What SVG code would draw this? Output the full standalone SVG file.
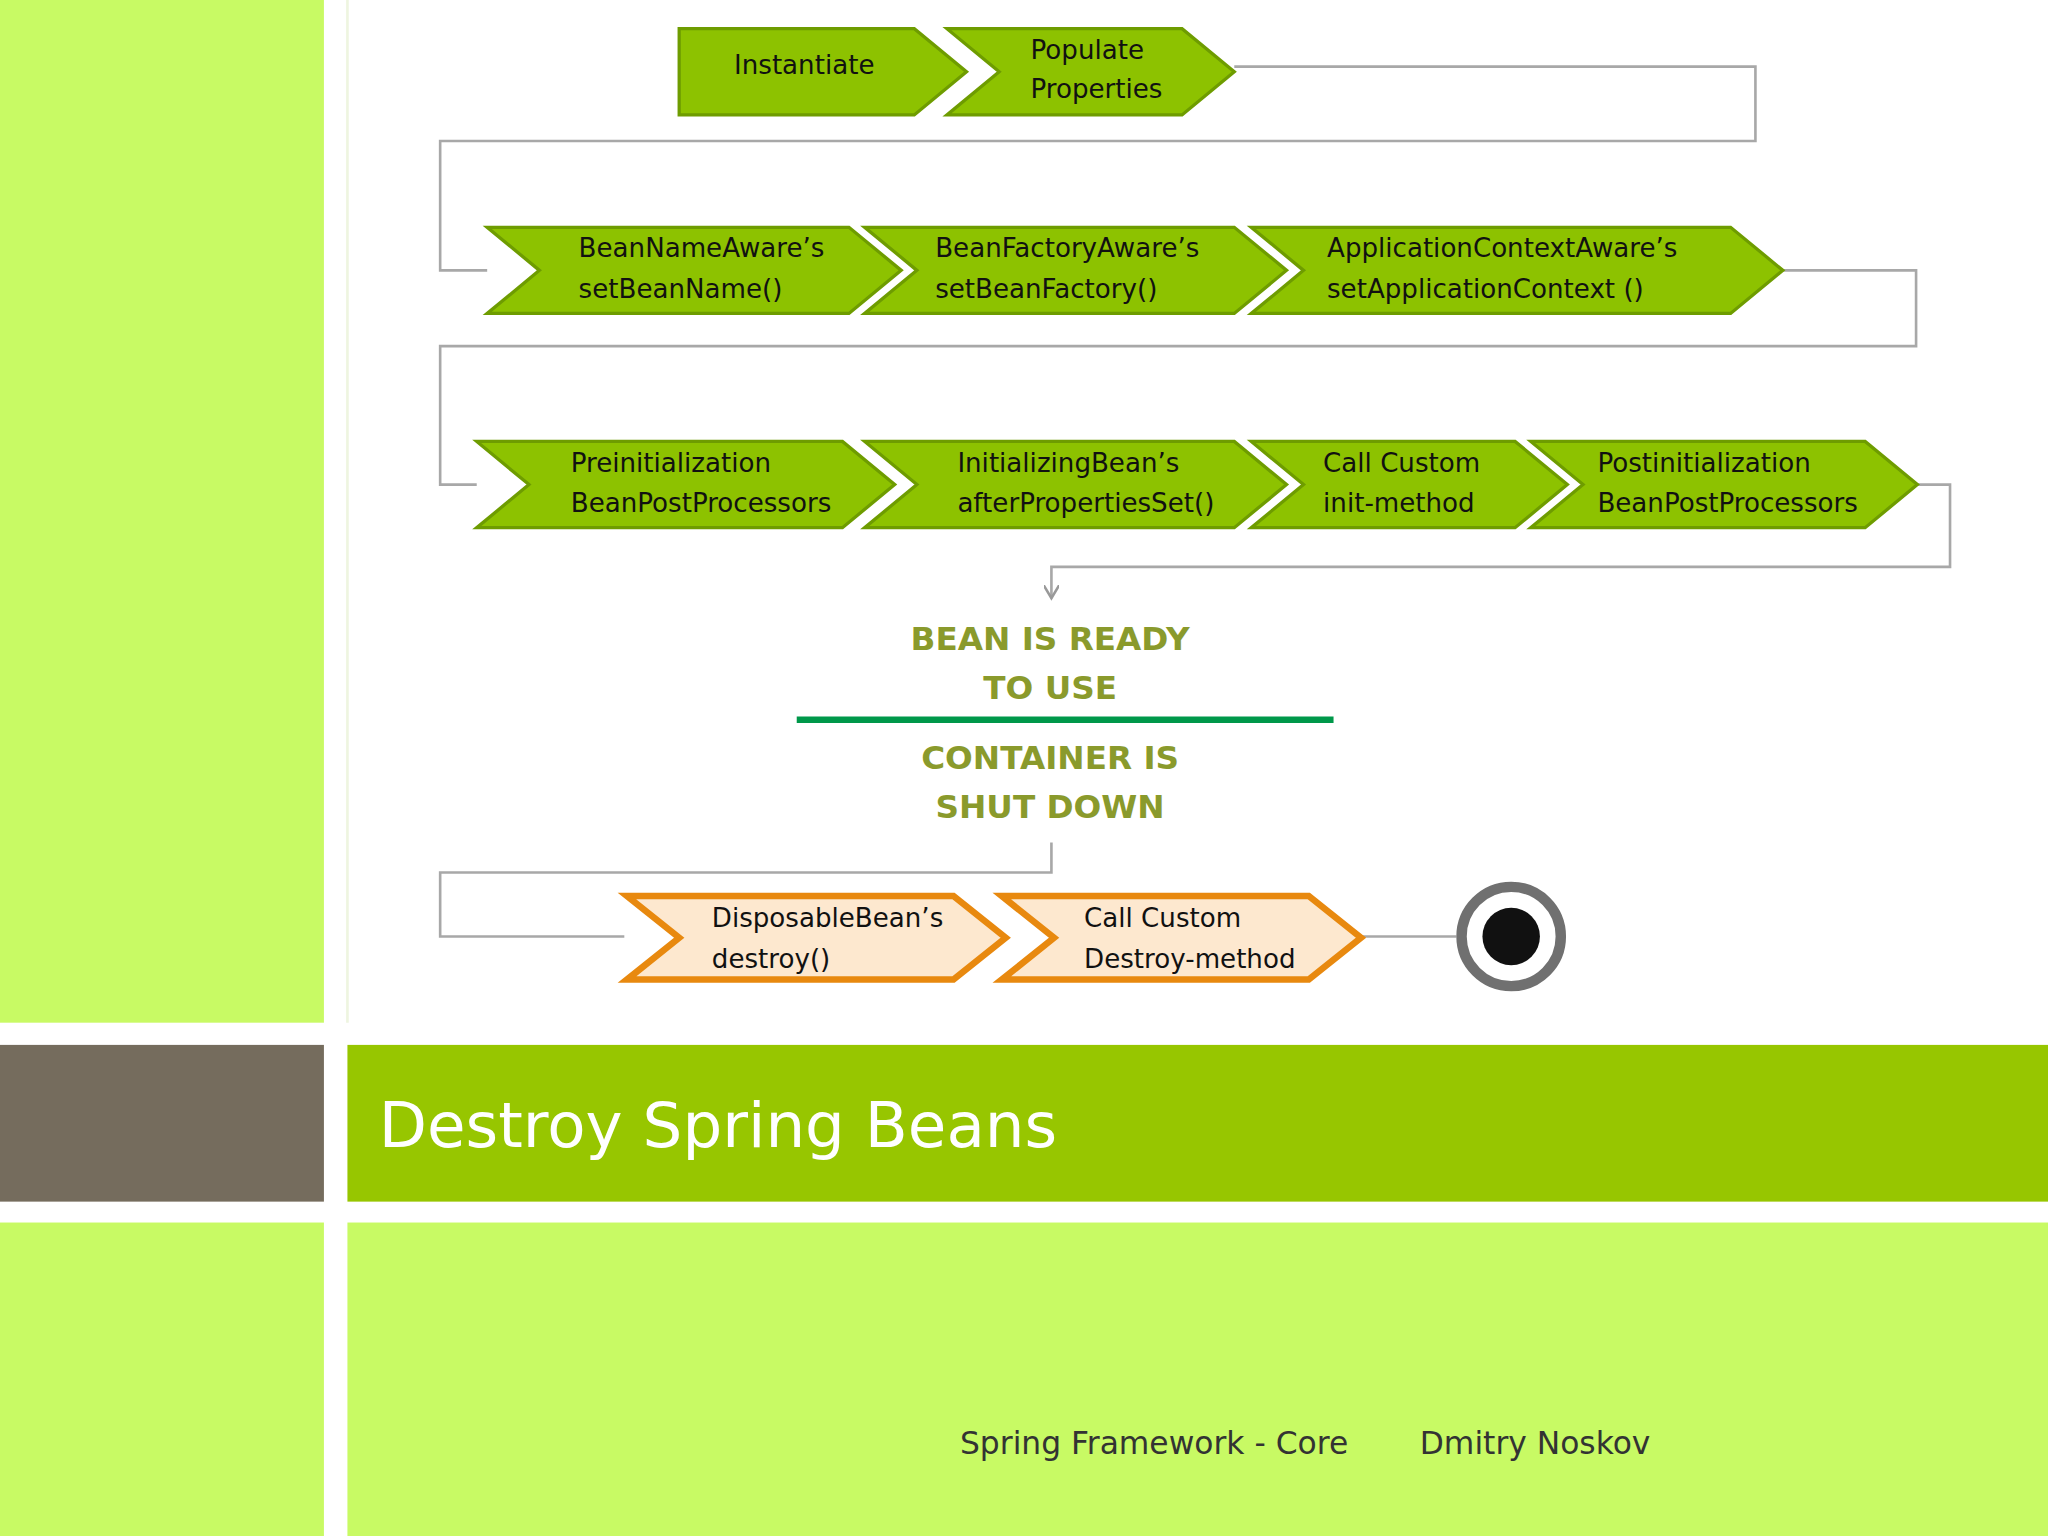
<svg xmlns="http://www.w3.org/2000/svg" width="2048" height="1536" viewBox="0 0 2048 1536">
<defs>
<style>
.g{fill:#8dc200;stroke:#6e9c00;stroke-width:2.5}
.o{fill:#fde8cf;stroke:#e8890f;stroke-width:5}
.t{font-family:"DejaVu Sans",sans-serif;font-size:20px;fill:#111}
.c{fill:none;stroke:#a8a8a8;stroke-width:2}
.b{font-family:"DejaVu Sans",sans-serif;font-weight:bold;font-size:25px;fill:#8a9a2c;text-anchor:middle}
</style>
<marker id="a" markerWidth="12" markerHeight="12" refX="10" refY="6" orient="auto" markerUnits="userSpaceOnUse"><path d="M0,0 L10,6 L0,12" fill="none" stroke="#999" stroke-width="2"/></marker>
</defs>
<g transform="scale(1.30612)">
<rect x="0" y="0" width="1568" height="1176" fill="#fff"/>
<rect x="0" y="0" width="248" height="783" fill="#c8fa64"/>
<rect x="0" y="800" width="248" height="120" fill="#756c5d"/>
<rect x="0" y="936" width="248" height="240" fill="#c8fa64"/>
<rect x="266" y="800" width="1302" height="120" fill="#97c600"/>
<rect x="266" y="936" width="1302" height="240" fill="#c8fa64"/>
<line x1="266" y1="0" x2="266" y2="783" stroke="#eef5e0" stroke-width="2"/>
<g id="connectors">
<polyline class="c" points="945,51 1344,51 1344,108 337,108 337,207 373,207"/>
<polyline class="c" points="1365,207 1467,207 1467,265 337,265 337,371 365,371"/>
<polyline class="c" points="1468,371 1493,371 1493,434 805,434 805,458" marker-end="url(#a)"/>
<polyline class="c" points="805,645 805,668 337,668 337,717 478,717"/>
<polyline class="c" points="1042,717 1115,717"/>
</g>
<g id="n1"><polygon class="g" points="520,22 700,22 740,55 700,88 520,88"/><text class="t" x="562" y="57">Instantiate</text></g>
<g id="n2"><polygon class="g" points="725,22 905,22 945,55 905,88 725,88 765,55"/><text class="t" x="789" y="45">Populate</text><text class="t" x="789" y="75">Properties</text></g>
<g id="n3"><polygon class="g" points="373,174 650,174 690,207 650,240 373,240 413,207"/><text class="t" x="443" y="197">BeanNameAware’s</text><text class="t" x="443" y="228">setBeanName()</text></g>
<g id="n4"><polygon class="g" points="662,174 945,174 985,207 945,240 662,240 702,207"/><text class="t" x="716" y="197">BeanFactoryAware’s</text><text class="t" x="716" y="228">setBeanFactory()</text></g>
<g id="n5"><polygon class="g" points="958,174 1325,174 1365,207 1325,240 958,240 998,207"/><text class="t" x="1016" y="197">ApplicationContextAware’s</text><text class="t" x="1016" y="228">setApplicationContext ()</text></g>
<g id="n6"><polygon class="g" points="365,338 645,338 685,371 645,404 365,404 405,371"/><text class="t" x="437" y="361">Preinitialization</text><text class="t" x="437" y="392">BeanPostProcessors</text></g>
<g id="n7"><polygon class="g" points="662,338 945,338 985,371 945,404 662,404 702,371"/><text class="t" x="733" y="361">InitializingBean’s</text><text class="t" x="733" y="392">afterPropertiesSet()</text></g>
<g id="n8"><polygon class="g" points="958,338 1160,338 1200,371 1160,404 958,404 998,371"/><text class="t" x="1013" y="361">Call Custom</text><text class="t" x="1013" y="392">init-method</text></g>
<g id="n9"><polygon class="g" points="1172,338 1428,338 1468,371 1428,404 1172,404 1212,371"/><text class="t" x="1223" y="361">Postinitialization</text><text class="t" x="1223" y="392">BeanPostProcessors</text></g>
<g id="ready"><text class="b" x="804" y="498">BEAN IS READY</text><text class="b" x="804" y="535">TO USE</text></g>
<line x1="610" y1="551" x2="1021" y2="551" stroke="#00984a" stroke-width="5"/>
<g id="shut"><text class="b" x="804" y="589">CONTAINER IS</text><text class="b" x="804" y="626">SHUT DOWN</text></g>
<g id="n10"><polygon class="o" points="480,686 730,686 770,718 730,750 480,750 520,718"/><text class="t" x="545" y="710">DisposableBean’s</text><text class="t" x="545" y="741">destroy()</text></g>
<g id="n11"><polygon class="o" points="767,686 1002,686 1042,718 1002,750 767,750 807,718"/><text class="t" x="830" y="710">Call Custom</text><text class="t" x="830" y="741">Destroy-method</text></g>
<g id="end"><circle cx="1157" cy="717" r="38" fill="#fff" stroke="#707070" stroke-width="8"/><circle cx="1157" cy="717" r="22" fill="#111"/></g>
<text x="290" y="878" font-family="DejaVu Sans,sans-serif" font-size="48" fill="#fff">Destroy Spring Beans</text>
<text x="735" y="1113" font-family="DejaVu Sans,sans-serif" font-size="24" fill="#333">Spring Framework - Core</text>
<text x="1087" y="1113" font-family="DejaVu Sans,sans-serif" font-size="24" fill="#333">Dmitry Noskov</text>
</g>
</svg>
